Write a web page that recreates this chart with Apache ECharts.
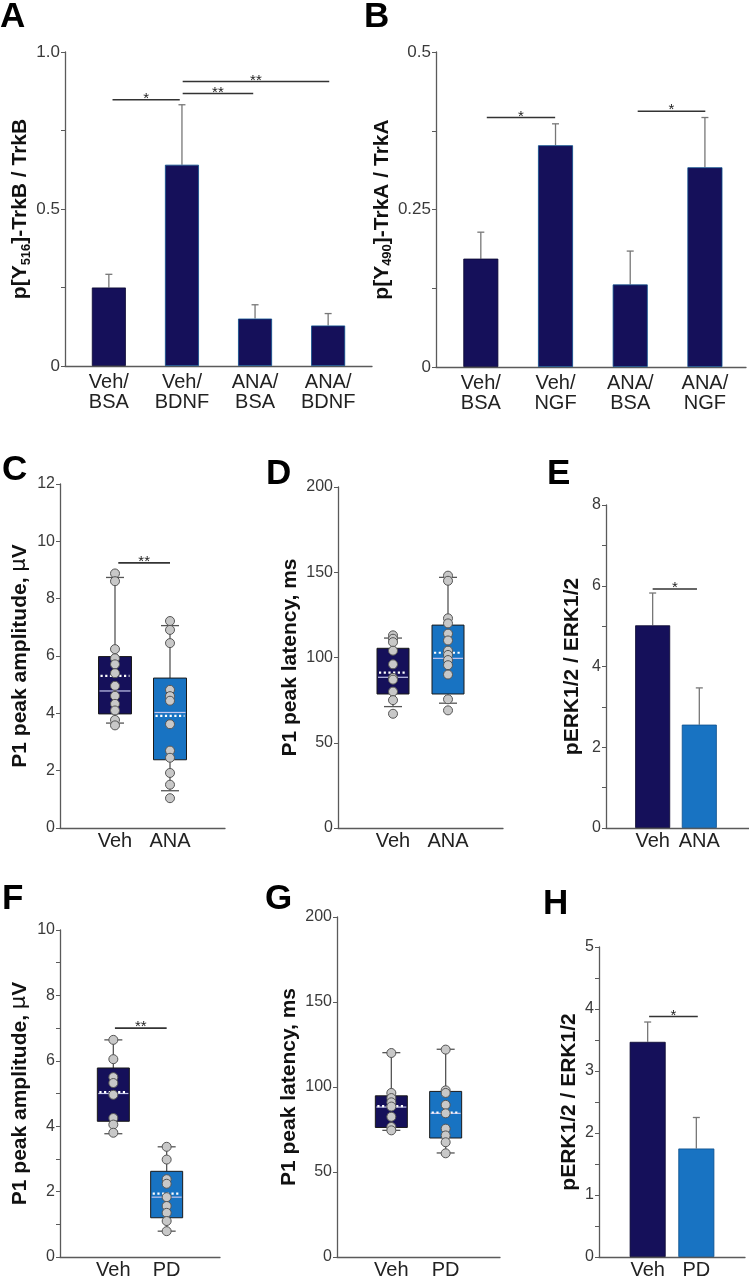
<!DOCTYPE html>
<html><head><meta charset="utf-8">
<script src="https://cdn.jsdelivr.net/npm/echarts@6/dist/echarts.min.js"></script>
<style>html,body{margin:0;padding:0;background:#fff}#c{width:749px;height:1280px}</style>
</head><body><div id="c"></div>
<script>
// ---------- DATA ----------
const catsA = ['Veh/\nBSA', 'Veh/\nBDNF', 'ANA/\nBSA', 'ANA/\nBDNF'];
const meanA = [0.25, 0.641, 0.151, 0.129];
const semA  = [0.042, 0.191, 0.044, 0.038];
const sigA  = [[0.05, 0.97, 0.848, '*'], [1.01, 1.975, 0.868, '**'], [1.01, 3.015, 0.906, '**']];

const catsB = ['Veh/\nBSA', 'Veh/\nNGF', 'ANA/\nBSA', 'ANA/\nNGF'];
const meanB = [0.172, 0.352, 0.131, 0.317];
const semB  = [0.042, 0.034, 0.053, 0.079];
const sigB  = [[0.08, 0.995, 0.396, '*'], [2.1, 3.005, 0.406, '*']];

const catsC = ['Veh', 'ANA'];
// [whiskerLow, Q1, median, Q3, whiskerHigh, mean]
const boxC = [[3.66, 3.98, 4.78, 5.98, 8.74, 5.31], [1.30, 2.38, 4.03, 5.23, 7.06, 3.91]];
const ptsC = [[8.88, 8.61, 6.24, 5.92, 5.71, 5.40, 4.96, 4.61, 4.33, 4.10, 3.77, 3.58],
              [7.22, 6.91, 6.45, 4.82, 4.60, 4.44, 3.62, 2.70, 2.45, 1.92, 1.51, 1.04]];
const sigC = [[0.06, 1.0, 9.25, '**']];

const catsD = ['Veh', 'ANA'];
const boxD = [[71.2, 78.6, 88.4, 105.4, 111.4, 91.1], [73.2, 78.6, 99.5, 119.0, 147.0, 102.8]];
const ptsD = [[113, 111, 109, 104, 96, 88, 87, 80, 75, 67],
              [148, 145, 123, 120, 114, 110, 104, 101.5, 98.5, 95.5, 90, 75.5, 69]];

const catsE = ['Veh', 'ANA'];
const meanE = [5.02, 2.56];
const semE  = [0.80, 0.91];
const sigE  = [[0.0, 0.95, 5.92, '*']];

const catsF = ['Veh', 'PD'];
const boxF = [[3.77, 4.15, 5.0, 5.78, 6.64, 5.04], [0.79, 1.20, 1.83, 2.62, 3.37, 1.94]];
const ptsF = [[6.64, 6.05, 5.5, 5.32, 4.96, 4.25, 4.05, 3.8],
              [3.37, 2.98, 2.38, 2.24, 1.83, 1.56, 1.35, 1.10, 0.79]];
const sigF = [[0.03, 1.0, 7.0, '**']];

const catsG = ['Veh', 'PD'];
const boxG = [[74.5, 76.2, 88.2, 94.8, 120.2, 88.8], [61.2, 70.0, 84.5, 97.4, 122.2, 85.0]];
const ptsG = [[120, 96.5, 93.5, 91, 88.5, 82.5, 76.5, 74.5],
              [122, 98, 96.5, 89.5, 84.5, 75.5, 71.5, 67.5, 61]];

const catsH = ['Veh', 'PD'];
const meanH = [3.47, 1.75];
const semH  = [0.32, 0.50];
const sigH  = [[0.03, 1.03, 3.88, '*']];

// ---------- STYLE ----------
const FONT = "'Liberation Sans', Arial, Helvetica, sans-serif";
const NAVY = '#15105a';
const BLUE = '#1873c2';
const AX = '#5a5a5a';

function xAx(gi, min, max, cats, margin) {
  return {
    type: 'value', gridIndex: gi, min: min, max: max,
    axisLine: {show: true, onZero: false, lineStyle: {color: AX, width: 1.3}},
    axisTick: {show: false}, splitLine: {show: false},
    axisLabel: {
      customValues: cats.map((_, i) => i),
      formatter: v => cats[Math.round(v)],
      fontSize: 20, lineHeight: 20, color: '#222', margin: margin, fontFamily: FONT
    }
  };
}
function yAx(gi, max, interval, fmt, name, nameGap, labelSize) {
  return {
    type: 'value', gridIndex: gi, min: 0, max: max, interval: interval,
    name: name, nameLocation: 'middle', nameGap: nameGap,
    nameTextStyle: {
      fontSize: 21, fontWeight: 'bold', color: '#111', fontFamily: FONT, lineHeight: 24,
      rich: {
        s: {fontSize: 13, fontWeight: 'bold', color: '#111', fontFamily: FONT, lineHeight: 10, verticalAlign: 'bottom'},
        mu: {fontSize: 21, fontWeight: 'normal', color: '#111', fontFamily: "'DejaVu Sans', sans-serif", lineHeight: 24}
      }
    },
    axisLine: {show: true, onZero: false, lineStyle: {color: AX, width: 1.3}},
    axisTick: {show: true, length: 4, lineStyle: {color: AX, width: 1}},
    splitLine: {show: false},
    axisLabel: {formatter: fmt, fontSize: labelSize, color: '#3a3a3a', margin: 5, fontFamily: FONT}
  };
}
function near(v, step) { return Math.abs(v / step - Math.round(v / step)) < 1e-6; }

function barSeries(gi, means, colors, width) {
  return {
    type: 'bar', xAxisIndex: gi, yAxisIndex: gi, barWidth: width, z: 2,
    data: means.map((m, i) => ({value: [i, m], itemStyle: {color: colors[i], borderColor: i ? '#0d4f8c' : '#0a0830', borderWidth: 0.8}})),
    silent: true
  };
}
function errSeries(gi, means, errs) {
  return {
    type: 'custom', xAxisIndex: gi, yAxisIndex: gi, z: 1, silent: true,
    data: means.map((m, i) => [i, m, m + errs[i]]),
    encode: {x: 0, y: [1, 2]},
    renderItem: (p, api) => {
      const a = api.coord([api.value(0), api.value(1)]);
      const b = api.coord([api.value(0), api.value(2)]);
      return {type: 'group', children: [
        {type: 'line', shape: {x1: a[0], y1: a[1], x2: b[0], y2: b[1]}, style: {stroke: '#777', lineWidth: 1.3}},
        {type: 'line', shape: {x1: b[0] - 3.5, y1: b[1], x2: b[0] + 3.5, y2: b[1]}, style: {stroke: '#777', lineWidth: 1.3}}
      ]};
    }
  };
}
function sigSeries(gi, sig) {
  return {
    type: 'custom', xAxisIndex: gi, yAxisIndex: gi, z: 5, silent: true,
    data: sig.map(s => [s[0], s[1], s[2]]),
    encode: {x: [0, 1], y: 2},
    renderItem: (p, api) => {
      const a = api.coord([api.value(0), api.value(2)]);
      const b = api.coord([api.value(1), api.value(2)]);
      return {type: 'group', children: [
        {type: 'line', shape: {x1: a[0], y1: a[1], x2: b[0], y2: b[1]}, style: {stroke: '#333', lineWidth: 1.6}},
        {type: 'text', style: {text: sig[p.dataIndex][3], x: (a[0] + b[0]) / 2, y: a[1] - 1, align: 'center', verticalAlign: 'middle', fontSize: 15, fontFamily: FONT, fill: '#222'}}
      ]};
    }
  };
}
function boxSeries(gi, boxes, colors, bw) {
  return {
    type: 'custom', xAxisIndex: gi, yAxisIndex: gi, z: 2, silent: true,
    data: boxes.map((b, i) => [i].concat(b)),
    encode: {x: 0, y: [1, 5]},
    renderItem: (p, api) => {
      const x = api.value(0);
      const lo = api.coord([x, api.value(1)]), q1 = api.coord([x, api.value(2)]),
            md = api.coord([x, api.value(3)]), q3 = api.coord([x, api.value(4)]),
            hi = api.coord([x, api.value(5)]), mn = api.coord([x, api.value(6)]);
      const cx = lo[0], h = bw / 2;
      const wl = {stroke: '#555', lineWidth: 1.3};
      return {type: 'group', children: [
        {type: 'line', shape: {x1: cx, y1: hi[1], x2: cx, y2: q3[1]}, style: wl},
        {type: 'line', shape: {x1: cx, y1: q1[1], x2: cx, y2: lo[1]}, style: wl},
        {type: 'line', shape: {x1: cx - 9, y1: hi[1], x2: cx + 9, y2: hi[1]}, style: wl},
        {type: 'line', shape: {x1: cx - 9, y1: lo[1], x2: cx + 9, y2: lo[1]}, style: wl},
        {type: 'rect', shape: {x: cx - h, y: q3[1], width: bw, height: q1[1] - q3[1]}, style: {fill: colors[p.dataIndex], stroke: '#1a1a1a', lineWidth: 1}},
        {type: 'line', shape: {x1: cx - h + 1, y1: md[1], x2: cx + h - 1, y2: md[1]}, style: {stroke: '#c4c6ec', lineWidth: 1.2}},
        {type: 'line', shape: {x1: cx - h + 2, y1: mn[1], x2: cx + h - 2, y2: mn[1]}, style: {stroke: '#ffffff', lineWidth: 2.2, lineDash: [2.2, 2.5]}}
      ]};
    }
  };
}
function ptSeries(gi, pts) {
  const data = [];
  pts.forEach((arr, i) => arr.forEach(v => data.push([i, v])));
  return {
    type: 'scatter', xAxisIndex: gi, yAxisIndex: gi, z: 4, silent: true,
    symbolSize: 9, data: data,
    itemStyle: {color: '#c8c8c8', borderColor: '#555', borderWidth: 1, opacity: 1}
  };
}
function letter(t, l, top) {
  return {text: t, left: l, top: top, padding: 0, textStyle: {fontSize: 35, fontWeight: 'bold', color: '#000', fontFamily: FONT}};
}

const grids = [
  {left: 65, top: 52, width: 307, height: 314},   // A
  {left: 436, top: 52, width: 310, height: 315},  // B
  {left: 60, top: 484, width: 165, height: 344},  // C
  {left: 338, top: 487, width: 165, height: 341}, // D
  {left: 606, top: 505, width: 143, height: 323}, // E
  {left: 60, top: 930, width: 160, height: 328},  // F
  {left: 337, top: 917, width: 163, height: 341}, // G
  {left: 599, top: 947, width: 146, height: 311}  // H
];

const option = {
  backgroundColor: '#fff',
  animation: false,
  title: [letter('A', 0, 0), letter('B', 364, 0), letter('C', 2, 453), letter('D', 266, 457),
          letter('E', 547, 457), letter('F', 2, 882), letter('G', 265, 882), letter('H', 543, 887)],
  grid: grids,
  xAxis: [
    xAx(0, -0.6, 3.6, catsA, 6), xAx(1, -0.6, 3.55, catsB, 6),
    xAx(2, -1, 2, catsC, 3), xAx(3, -1, 2, catsD, 3), xAx(4, -1, 2.065, catsE, 3),
    xAx(5, -1, 2, catsF, 3), xAx(6, -1, 2, catsG, 3), xAx(7, -1, 2, catsH, 3)
  ],
  yAxis: [
    yAx(0, 1.0, 0.25, v => near(v, 0.5) ? (v === 1 ? '1.0' : String(v)) : '', 'p[Y{s|516}]-TrkB / TrkB', 23, 17),
    yAx(1, 0.5, 0.125, v => near(v, 0.25) ? String(v) : '', 'p[Y{s|490}]-TrkA / TrkA', 29, 17),
    yAx(2, 12, 2, v => String(v), 'P1 peak amplitude, {mu|μ}V', 28, 16),
    yAx(3, 200, 50, v => String(v), 'P1 peak latency, ms', 32, 16),
    yAx(4, 8, 1, v => near(v, 2) ? String(v) : '', 'pERK1/2 / ERK1/2', 22, 16),
    yAx(5, 10, 1, v => near(v, 2) ? String(v) : '', 'P1 peak amplitude, {mu|μ}V', 28, 16),
    yAx(6, 200, 50, v => String(v), 'P1 peak latency, ms', 33, 16),
    yAx(7, 5, 0.5, v => near(v, 1) ? String(v) : '', 'pERK1/2 / ERK1/2', 15, 16)
  ],
  series: [
    errSeries(0, meanA, semA), barSeries(0, meanA, [NAVY, NAVY, NAVY, NAVY], 34), sigSeries(0, sigA),
    errSeries(1, meanB, semB), barSeries(1, meanB, [NAVY, NAVY, NAVY, NAVY], 35), sigSeries(1, sigB),
    boxSeries(2, boxC, [NAVY, BLUE], 33), ptSeries(2, ptsC), sigSeries(2, sigC),
    boxSeries(3, boxD, [NAVY, BLUE], 32), ptSeries(3, ptsD),
    errSeries(4, meanE, semE), barSeries(4, meanE, [NAVY, BLUE], 35), sigSeries(4, sigE),
    boxSeries(5, boxF, [NAVY, BLUE], 32), ptSeries(5, ptsF), sigSeries(5, sigF),
    boxSeries(6, boxG, [NAVY, BLUE], 32), ptSeries(6, ptsG),
    errSeries(7, meanH, semH), barSeries(7, meanH, [NAVY, BLUE], 36), sigSeries(7, sigH)
  ]
};
const chart = echarts.init(document.getElementById('c'), null, {renderer: 'canvas'});
chart.setOption(option);
</script>
</body></html>
